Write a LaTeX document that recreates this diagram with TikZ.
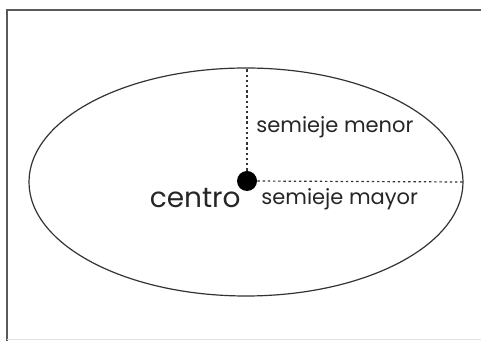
\documentclass[tikz,border=0pt]{standalone}
\usepackage{fontspec}
\setmainfont{Poppins}
\begin{document}
\begin{tikzpicture}[
    x=0.5pt, y=0.5pt,
    marco/.style = {draw=black!65, line width=1.2pt},
    orbita/.style = {draw=black!80, line width=0.6pt},
    eje/.style = {draw=black!80, line width=0.6pt, dash pattern=on 1.2pt off 1.4pt},
    punto/.style = {circle, fill=black, inner sep=0pt, minimum size=10pt},
    texto/.style = {inner sep=0pt, font=\fontsize{10.5}{12}\selectfont, text=black!85}
]
    \useasboundingbox (0,0) rectangle (481,341);

    % --- Marco ---
    \draw[marco] (7,0) -- (7,331) -- (481,331);
    \draw[black!12, line width=0.6pt] (7,1.5) -- (481,1.5);

    % --- Elipse ---
    \draw[orbita] (246,159) ellipse [x radius=217, y radius=114];
    \coordinate (arriba) at (246,273);
    \coordinate (derecha) at (463,159);

    % --- Centro y semiejes ---
    \node[punto] (centro) at (247,160) {};
    \draw[eje] (centro) -- (centro |- arriba);
    \draw[eje] (centro) -- (derecha);

    \node[texto, anchor=base west] (menor) at (256,208) {semieje menor};
    \node[texto, anchor=base west] (mayor) at (261,136) {semieje mayor};
    \node[texto, anchor=base east, font=\fontsize{14}{16}\selectfont] (nombre) at (241,133) {centro};
\end{tikzpicture}
\end{document}
